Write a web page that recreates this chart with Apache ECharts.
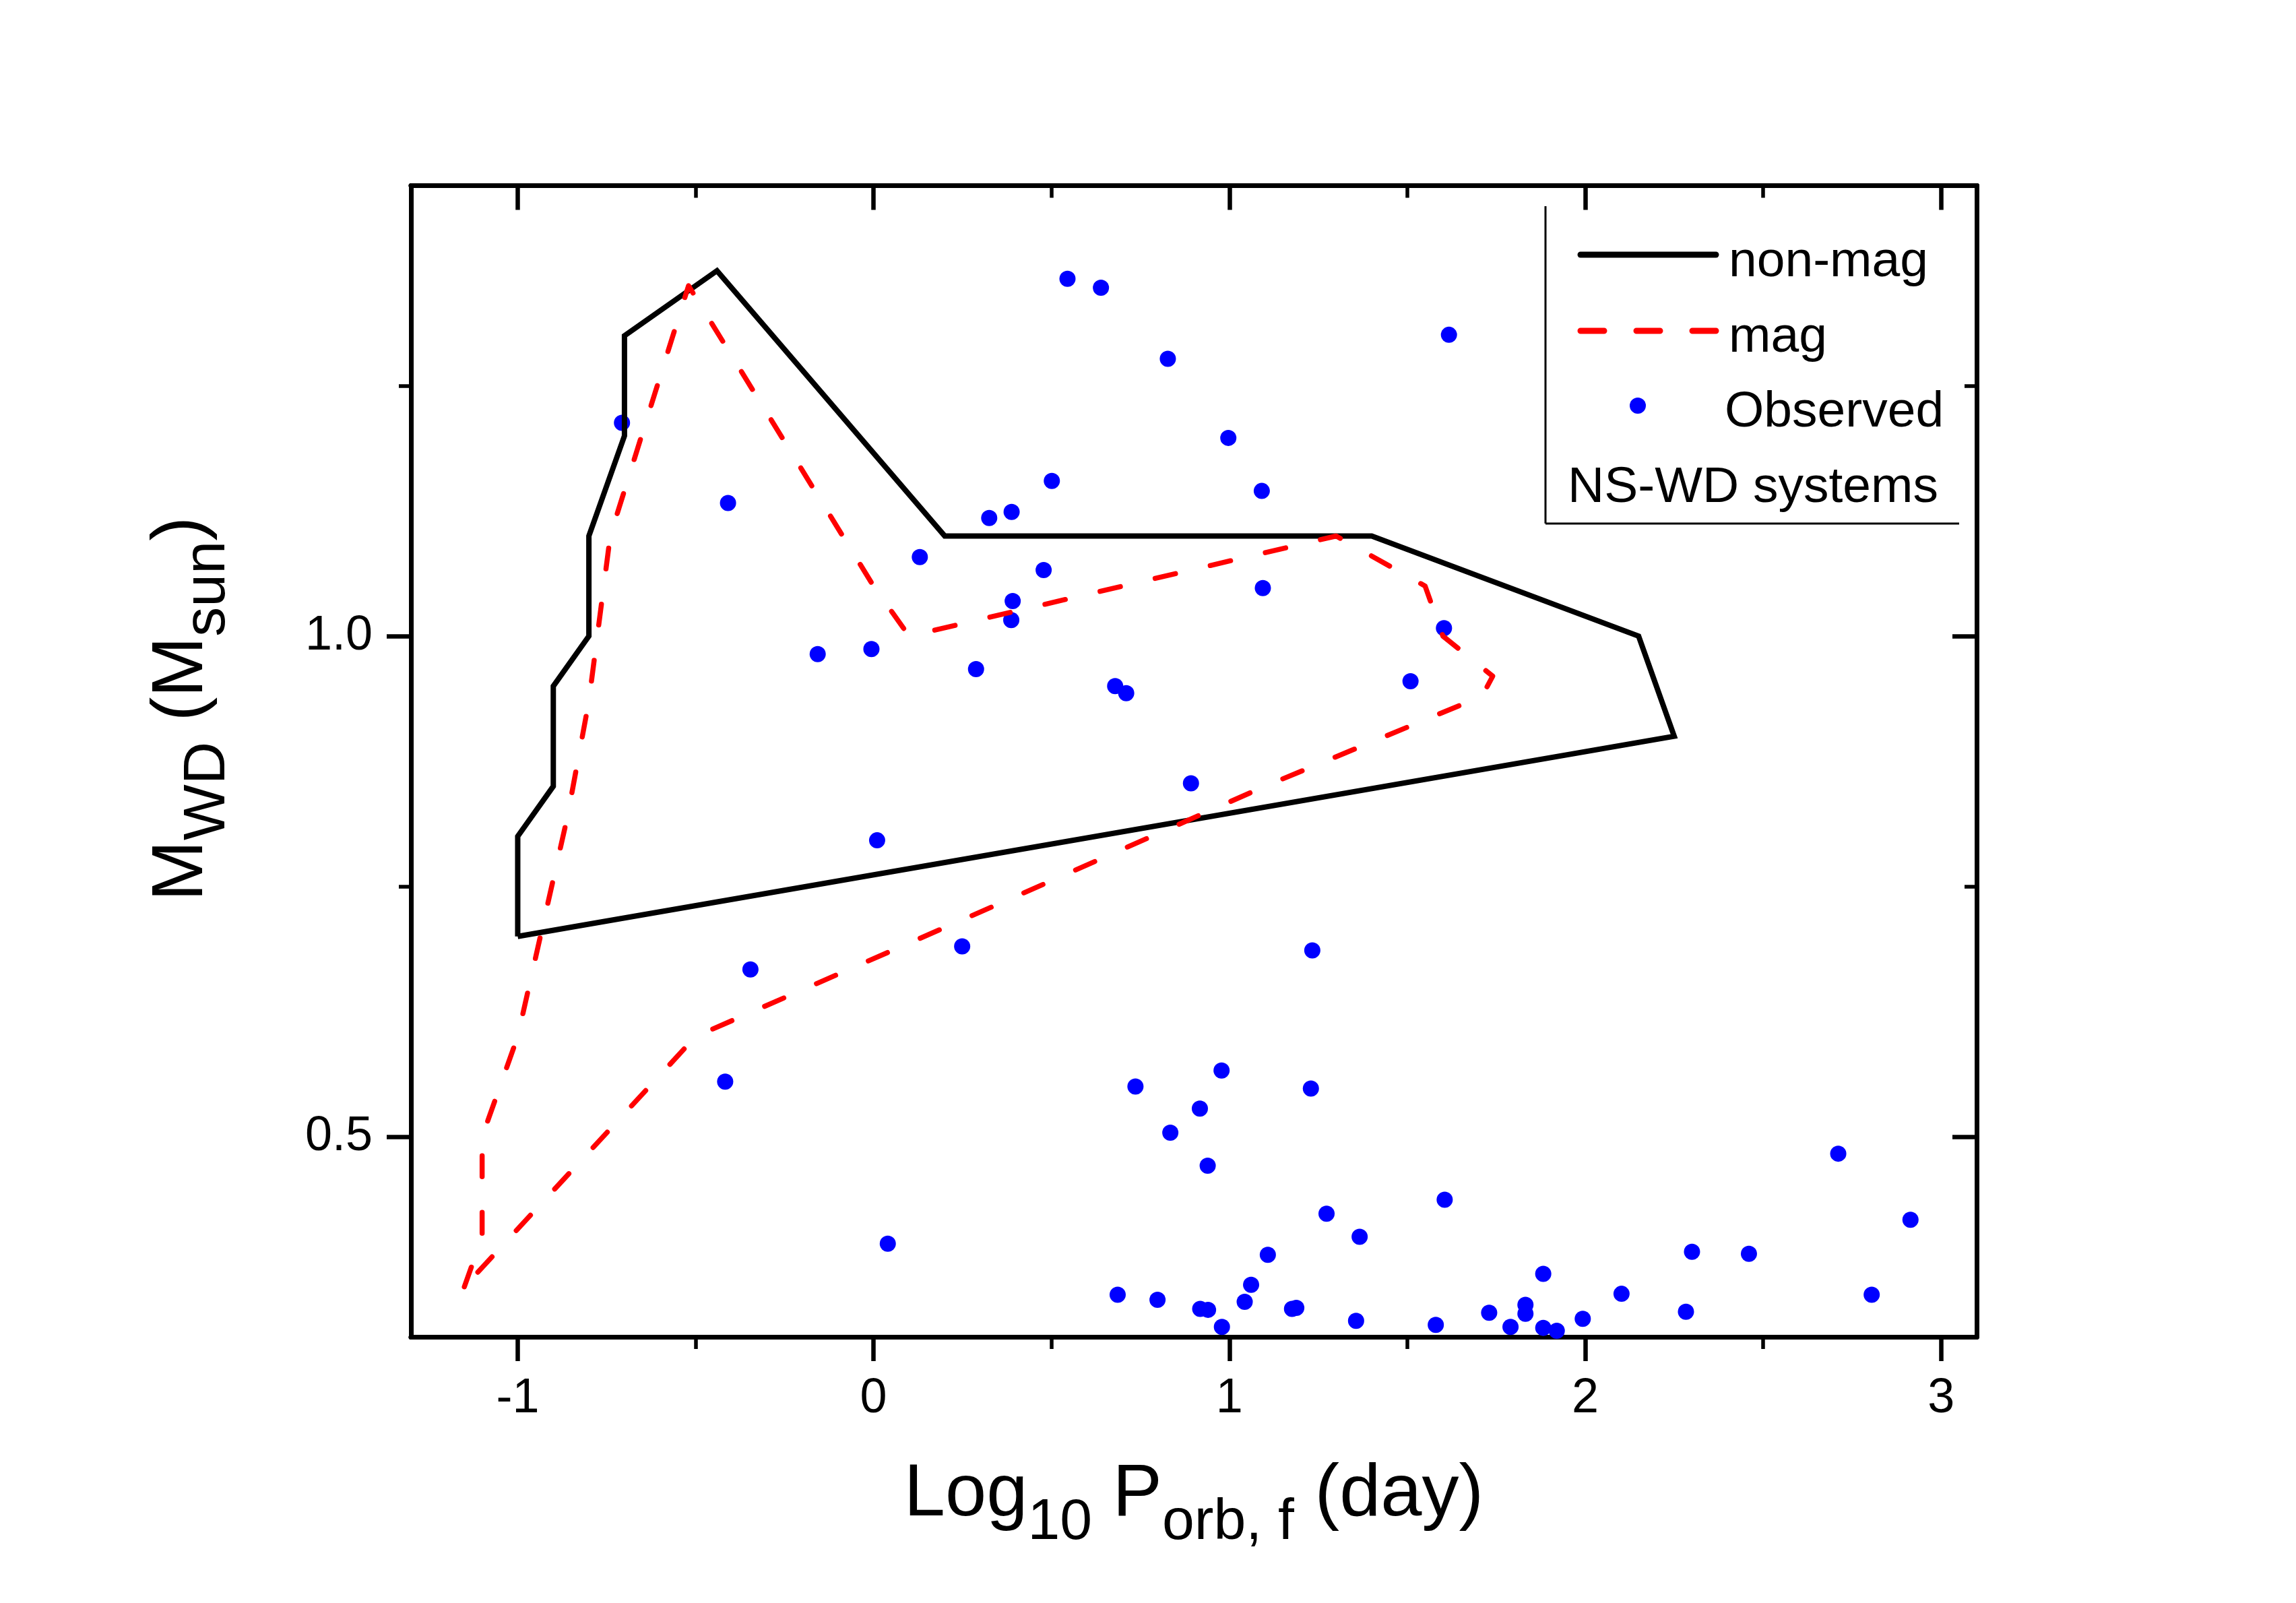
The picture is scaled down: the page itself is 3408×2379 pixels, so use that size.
<!DOCTYPE html>
<html>
<head>
<meta charset="utf-8">
<script src="https://cdn.jsdelivr.net/npm/echarts@6.0.0/dist/echarts.min.js"></script>
<style>
  html, body { margin: 0; padding: 0; background: #fff; }
  #chart { width: 3408px; height: 2379px; }
</style>
</head>
<body>
<div id="chart"></div>
<script>
// axis ranges and ticks
var xMin = -1.3, xMax = 3.1;
var yMin = 0.3, yMax = 1.45;
var xMajor = [-1, 0, 1, 2, 3];
var xMinor = [-0.5, 0.5, 1.5, 2.5];
var yMajor = [0.5, 1.0];
var yMinor = [0.75, 1.25];

// non-magnetic boundary (closed)
var nonMagX = [-1, -1, -0.9, -0.9, -0.8, -0.8, -0.7, -0.7, -0.44, 0.2, 1.4, 2.15, 2.2, 2.25, -1];
var nonMagY = [0.7, 0.8, 0.85, 0.95, 1.0, 1.1, 1.2, 1.3, 1.365, 1.1, 1.1, 1.0, 0.95, 0.9, 0.7];

// magnetic boundary (closed)
var magX = [-1.15, -1.1, -1.1, -1.0, -0.86, -0.8, -0.74, -0.52, 0.0, 0.1, 1.3, 1.55, 1.6, 1.74, 1.71, 1.1, 0.4, -0.5, -1.15];
var magY = [0.35, 0.4, 0.5, 0.6, 0.82, 0.935, 1.1, 1.35, 1.05, 1.0, 1.1, 1.05, 1.0, 0.96, 0.94, 0.85, 0.74, 0.6, 0.35];

// observed NS-WD systems
var obsX = [0.545, 0.639, 1.617, 0.827, -0.707, 0.997, 1.091, 0.501, -0.409, 0.388,
            0.325, 0.130, 0.478, 1.094, 0.391, 0.387, 1.603, -0.157, -0.006, 0.288,
            0.679, 0.710, 1.509, 0.892, 0.010, 0.249, 1.233, -0.346, -0.417, 0.978,
            0.736, 1.229, 0.917, 0.834, 0.939, 2.711, 2.914, 1.605, 1.273, 1.366,
            0.040, 1.108, 1.882, 2.300, 2.460, 1.061, 0.686, 0.798, 2.102, 2.805,
            1.043, 0.918, 0.940, 1.176, 1.188, 1.832, 1.832, 1.730, 2.283, 1.356,
            1.993, 1.580, 1.790, 1.882, 1.920, 0.979, 1.347, 1.599, 1.894];
var obsY = [1.357, 1.348, 1.301, 1.277, 1.213, 1.198, 1.145, 1.155, 1.133, 1.124,
            1.118, 1.079, 1.066, 1.048, 1.035, 1.016, 1.008, 0.982, 0.987, 0.967,
            0.950, 0.943, 0.955, 0.853, 0.796, 0.690, 0.686, 0.667, 0.555, 0.566,
            0.550, 0.548, 0.528, 0.504, 0.471, 0.483, 0.417, 0.437, 0.423, 0.400,
            0.393, 0.382, 0.363, 0.385, 0.383, 0.352, 0.342, 0.337, 0.343, 0.342,
            0.335, 0.328, 0.327, 0.328, 0.329, 0.332, 0.323, 0.324, 0.325, 0.316,
            0.318, 0.312, 0.310, 0.309, 0.306, 0.310, 0.296, 0.296, 0.296];

var legendNames = ['non-mag', 'mag', 'Observed'];
var noteText = 'NS-WD systems';

var FONT = '"Liberation Sans", Arial, sans-serif';

function pairs(xs, ys) {
  return xs.map(function (x, i) { return [x, ys[i]]; });
}

function xAxisDef(grid, pos, ticks, len, labels) {
  return {
    type: 'value', gridIndex: grid, position: pos, min: xMin, max: xMax,
    axisLine: { show: true, onZero: false, lineStyle: { color: '#000', width: 7 } },
    axisTick: { show: true, inside: pos === 'top', length: len, customValues: ticks,
                lineStyle: { color: '#000', width: len > 20 ? 6.5 : 5.5 } },
    axisLabel: labels ? { show: true, customValues: labels, margin: 56, fontSize: 72,
                          color: '#000', fontFamily: FONT } : { show: false },
    splitLine: { show: false }
  };
}

function yAxisDef(grid, pos, ticks, len, labels) {
  return {
    type: 'value', gridIndex: grid, position: pos, min: yMin, max: yMax,
    axisLine: { show: true, onZero: false, lineStyle: { color: '#000', width: 7 } },
    axisTick: { show: true, inside: pos === 'right', length: len, customValues: ticks,
                lineStyle: { color: '#000', width: len > 20 ? 6.5 : 5.5 } },
    axisLabel: labels ? { show: true, customValues: labels, margin: 57, fontSize: 72,
                          color: '#000', fontFamily: FONT,
                          formatter: function (v) { return v.toFixed(1); } } : { show: false },
    splitLine: { show: false }
  };
}

var gridRect = { left: 610, right: 474, top: 275.5, bottom: 395, containLabel: false };

var chart = echarts.init(document.getElementById('chart'), null, { renderer: 'canvas' });

var option = {
  backgroundColor: '#fff',
  animation: false,
  grid: [gridRect, Object.assign({}, gridRect)],
  xAxis: [
    xAxisDef(0, 'bottom', xMajor, 36, xMajor),
    xAxisDef(0, 'top', xMajor, 36, null),
    xAxisDef(1, 'bottom', xMinor, 18, null),
    xAxisDef(1, 'top', xMinor, 18, null)
  ],
  yAxis: [
    yAxisDef(0, 'left', yMajor, 36, yMajor),
    yAxisDef(0, 'right', yMajor, 36, null),
    yAxisDef(1, 'left', yMinor, 18, null),
    yAxisDef(1, 'right', yMinor, 18, null)
  ],
  series: [
    {
      name: legendNames[0], type: 'line', xAxisIndex: 0, yAxisIndex: 0,
      data: pairs(nonMagX, nonMagY), showSymbol: false, symbol: 'none',
      lineStyle: { color: '#000', width: 8, join: 'miter', opacity: 1 }
    },
    {
      name: legendNames[1], type: 'line', xAxisIndex: 0, yAxisIndex: 0,
      data: pairs(magX, magY), showSymbol: false, symbol: 'none',
      lineStyle: { color: '#ff0000', width: 7.5, type: [31, 53], cap: 'round', join: 'round', opacity: 1 }
    },
    {
      name: legendNames[2], type: 'scatter', xAxisIndex: 0, yAxisIndex: 0,
      data: pairs(obsX, obsY), symbol: 'circle', symbolSize: 24,
      itemStyle: { color: '#0000ff', opacity: 1 }
    }
  ],
  graphic: [
    // axis titles with sub scripts
    {
      type: 'text', x: 1772, y: 2219, z: 10,
      style: {
        text: '{m|Log}{s|10}{m| P}{s|orb, f}{m| (day)}',
        align: 'center', verticalAlign: 'middle', fill: '#000',
        rich: {
          m: { fontSize: 110, fontFamily: FONT, fill: '#000' },
          s: { fontSize: 86, fontFamily: FONT, fill: '#000', padding: [82, 0, 0, 0] }
        }
      }
    },
    {
      type: 'text', x: 270, y: 1052, rotation: Math.PI / 2, z: 10,
      style: {
        text: '{m|M}{s|WD}{m| (M}{s|sun}{m|)}',
        align: 'center', verticalAlign: 'middle', fill: '#000',
        rich: {
          m: { fontSize: 108, fontFamily: FONT, fill: '#000' },
          s: { fontSize: 88, fontFamily: FONT, fill: '#000', padding: [78, 0, 0, 0] }
        }
      }
    },
    // legend frame (left and bottom edges only)
    { type: 'line', z: 10, shape: { x1: 2294, y1: 306, x2: 2294, y2: 777 }, style: { stroke: '#000', lineWidth: 3 } },
    { type: 'line', z: 10, shape: { x1: 2294, y1: 777, x2: 2908, y2: 777 }, style: { stroke: '#000', lineWidth: 3 } },
    // legend keys
    { type: 'line', z: 10, shape: { x1: 2346, y1: 378, x2: 2547, y2: 378 }, style: { stroke: '#000', lineWidth: 9, lineCap: 'round' } },
    { type: 'line', z: 10, shape: { x1: 2346, y1: 491, x2: 2547, y2: 491 }, style: { stroke: '#ff0000', lineWidth: 9, lineCap: 'round', lineDash: [35, 48] } },
    { type: 'circle', z: 10, shape: { cx: 2431, cy: 602, r: 12 }, style: { fill: '#0000ff' } },
    // legend texts
    { type: 'text', z: 10, x: 2566, y: 389, style: { text: legendNames[0], fontSize: 75, fontFamily: FONT, fill: '#000', verticalAlign: 'middle' } },
    { type: 'text', z: 10, x: 2566, y: 501, style: { text: legendNames[1], fontSize: 75, fontFamily: FONT, fill: '#000', verticalAlign: 'middle' } },
    { type: 'text', z: 10, x: 2560, y: 612, style: { text: legendNames[2], fontSize: 75, fontFamily: FONT, fill: '#000', verticalAlign: 'middle' } },
    { type: 'text', z: 10, x: 2327, y: 724, style: { text: noteText, fontSize: 75, fontFamily: FONT, fill: '#000', verticalAlign: 'middle' } }
  ]
};

chart.setOption(option);
</script>
</body>
</html>
